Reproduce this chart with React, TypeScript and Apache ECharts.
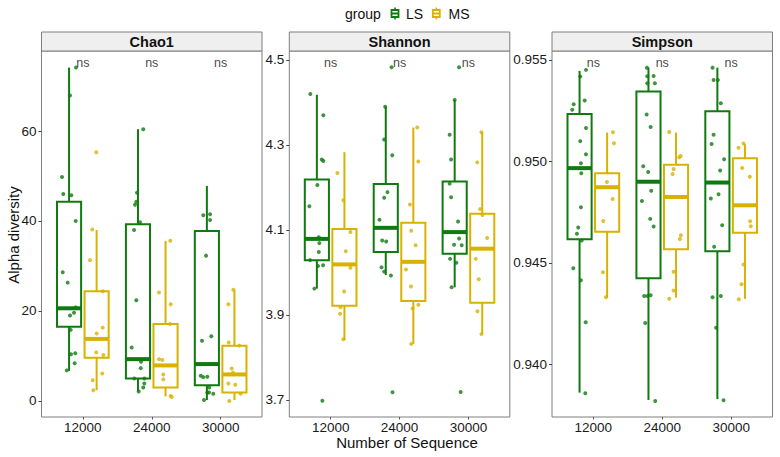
import React, { useEffect, useRef } from "react";
import * as echarts from "echarts";

const categories = ["12000", "24000", "30000"];
const groups = ["LS", "MS"];
const metrics = ["Chao1", "Shannon", "Simpson"];
const groupColors = ["#0F7A0F", "#D8B200"];

// box statistics per category: [lower whisker, Q1, median, Q3, upper whisker]
const chao1BoxLS = [[6.7, 16.5, 20.6, 44.3, 74.1], [2.1, 5.0, 9.3, 39.3, 60.4], [0.2, 3.5, 8.2, 37.8, 47.8]];
const chao1BoxMS = [[2.4, 9.6, 13.8, 24.4, 38.0], [1.0, 3.0, 7.9, 17.1, 35.6], [0.2, 1.9, 5.9, 12.3, 24.7]];
const shannonBoxLS = [[3.962, 4.029, 4.079, 4.219, 4.418], [3.994, 4.048, 4.105, 4.208, 4.39], [3.965, 4.044, 4.095, 4.214, 4.406]];
const shannonBoxMS = [[3.841, 3.922, 4.019, 4.102, 4.283], [3.832, 3.933, 4.025, 4.117, 4.341], [3.855, 3.929, 4.056, 4.138, 4.33]];
const simpsonBoxLS = [[0.93861, 0.94617, 0.94967, 0.95234, 0.95446], [0.93825, 0.94425, 0.949, 0.95344, 0.95462], [0.93829, 0.94558, 0.94896, 0.95247, 0.95462]];
const simpsonBoxMS = [[0.94329, 0.94653, 0.94873, 0.94942, 0.95142], [0.94329, 0.94567, 0.94825, 0.94984, 0.95142], [0.94323, 0.94649, 0.94784, 0.95016, 0.95085]];

// jittered points: [jittered x position (category units), value]
const chao1PointsLS = [
  [0.901, 74.1], [0.814, 67.9], [0.698, 49.8], [0.716, 46.0], [0.833, 45.7], [0.896, 40.0], [0.708, 28.6], [0.78, 26.3],
  [0.896, 20.8], [0.872, 19.6], [0.814, 19.0], [0.824, 15.8], [0.828, 10.4], [0.891, 10.6], [0.882, 8.4], [0.766, 6.8],
  [1.877, 60.4], [1.786, 46.3], [1.776, 44.3], [1.757, 43.6], [1.83, 39.7], [1.743, 38.0], [1.776, 22.4], [1.709, 11.9],
  [1.844, 8.7], [1.84, 7.3], [1.892, 3.9], [1.877, 3.0], [1.811, 2.1], [1.747, 5.0], [1.892, 5.0],
  [2.748, 41.3], [2.846, 41.5], [2.846, 40.2], [2.788, 32.3], [2.729, 13.4], [2.864, 14.4], [2.711, 5.6], [2.748, 5.3],
  [2.806, 5.4], [2.835, 3.0], [2.831, 1.9], [2.893, 1.6], [2.758, 0.2], [2.806, 1.9],
];
const chao1PointsMS = [
  [1.195, 55.3], [1.137, 38.1], [1.104, 31.3], [1.288, 24.4], [1.201, 15.0], [1.288, 16.3], [1.195, 10.8], [1.297, 10.2],
  [1.282, 6.1], [1.143, 4.6], [1.152, 2.4],
  [2.269, 35.6], [2.105, 24.1], [2.275, 21.5], [2.265, 17.1], [2.105, 9.3], [2.153, 9.1], [2.168, 5.9], [2.168, 4.8],
  [2.275, 1.1], [2.29, 0.9],
  [3.184, 24.7], [3.111, 21.5], [3.117, 13.0], [3.271, 12.3], [3.16, 7.2], [3.179, 6.3], [3.111, 3.9], [3.213, 3.6],
  [3.291, 1.6], [3.126, 0.0],
];
const shannonPointsLS = [
  [0.705, 4.42], [0.894, 4.37], [0.871, 4.266], [0.894, 4.262], [0.807, 4.206], [0.691, 4.156], [0.828, 4.083], [0.836, 4.069],
  [0.828, 4.048], [0.701, 4.029], [0.817, 4.015], [0.89, 4.017], [0.764, 3.962], [0.88, 3.698],
  [1.792, 4.39], [1.777, 4.313], [1.894, 4.276], [1.825, 4.189], [1.777, 4.176], [1.709, 4.124], [1.884, 4.483], [1.748, 4.075],
  [1.806, 4.073], [1.738, 4.012], [1.777, 4.002], [1.875, 3.993], [1.898, 3.718],
  [2.8, 4.406], [2.727, 4.324], [2.748, 4.266], [2.727, 4.209], [2.748, 4.177], [2.849, 4.12], [2.864, 4.483], [2.864, 4.08],
  [2.791, 4.065], [2.902, 4.064], [2.733, 4.032], [2.825, 4.023], [2.756, 3.965], [2.887, 3.719],
];
const shannonPointsMS = [
  [1.098, 4.234], [1.185, 4.17], [1.287, 4.095], [1.22, 4.05], [1.287, 4.011], [1.196, 3.955], [1.142, 3.918], [1.137, 3.903],
  [1.185, 3.843],
  [2.257, 4.341], [2.272, 4.261], [2.151, 4.16], [2.17, 4.098], [2.233, 4.064], [2.093, 4.007], [2.166, 3.967], [2.272, 3.924],
  [2.189, 3.915], [2.17, 3.832],
  [3.188, 4.33], [3.126, 4.259], [3.169, 4.149], [3.203, 4.135], [3.271, 4.081], [3.105, 4.032], [3.149, 3.984], [3.13, 3.909],
  [3.188, 3.855],
];
const simpsonPointsLS = [
  [0.893, 0.95451], [0.81, 0.95418], [0.874, 0.953], [0.715, 0.95282], [0.694, 0.95255], [0.893, 0.95165], [0.81, 0.951],
  [0.893, 0.95035], [0.82, 0.94991], [0.825, 0.94942], [0.82, 0.94774], [0.781, 0.94674], [0.762, 0.94644], [0.831, 0.9461],
  [0.709, 0.94474], [0.82, 0.94415], [0.889, 0.94208], [0.883, 0.93858],
  [1.777, 0.95462], [1.875, 0.95421], [1.782, 0.9542], [1.782, 0.95385], [1.893, 0.95385], [1.773, 0.95231], [1.831, 0.9517],
  [1.724, 0.94976], [1.796, 0.94948], [1.84, 0.94856], [1.705, 0.94805], [1.825, 0.94717], [1.875, 0.94679], [1.738, 0.94337],
  [1.787, 0.94337], [1.831, 0.94341], [1.753, 0.94204], [1.898, 0.9382],
  [2.73, 0.95462], [2.745, 0.95401], [2.807, 0.95401], [2.85, 0.95287], [2.745, 0.95131], [2.716, 0.95086], [2.898, 0.95011],
  [2.84, 0.94955], [2.817, 0.94838], [2.705, 0.94817], [2.869, 0.94686], [2.753, 0.9458], [2.73, 0.94331], [2.85, 0.94337],
  [2.782, 0.94181], [2.89, 0.93824],
];
const simpsonPointsMS = [
  [1.284, 0.95144], [1.299, 0.9509], [1.197, 0.94899], [1.28, 0.94815], [1.144, 0.94707], [1.139, 0.94454], [1.183, 0.94331],
  [2.101, 0.95145], [2.266, 0.95027], [2.246, 0.9502], [2.165, 0.94963], [2.15, 0.94938], [2.27, 0.94636], [2.256, 0.94618],
  [2.165, 0.94457], [2.165, 0.94364], [2.101, 0.94324],
  [3.179, 0.95088], [3.107, 0.95067], [3.159, 0.94968], [3.271, 0.94924], [3.275, 0.94705], [3.285, 0.94681], [3.179, 0.94492],
  [3.15, 0.94395], [3.111, 0.94321],
];

const yMin = [-3.56, 3.66, 0.93741];
const yMax = [77.78, 4.521, 0.95544];
const yTickValues = [[0, 20, 40, 60], [3.7, 3.9, 4.1, 4.3, 4.5], [0.94, 0.945, 0.95, 0.955]];
const yDecimals = [0, 1, 3];
const nsLabelY = [75.1, 4.492, 0.95484];
const nsText = "ns";
const yTitle = "Alpha diversity";
const xTitle = "Number of Sequence";
const legendTitle = "group";

const FONT = "'Liberation Sans', Arial, Helvetica, sans-serif";
const PANEL_LEFT = [41.5, 289.3, 552];
const PANEL_W = 220.5;
const PANEL_TOP = 51;
const PANEL_H = 366;
const STRIP_TOP = 32;
const BORDER = "#7f7f7f";
const DODGE = 0.2;
const BOX_HALF = 0.175;

const boxes = [
  [chao1BoxLS, chao1BoxMS],
  [shannonBoxLS, shannonBoxMS],
  [simpsonBoxLS, simpsonBoxMS],
];
const points = [
  [chao1PointsLS, chao1PointsMS],
  [shannonPointsLS, shannonPointsMS],
  [simpsonPointsLS, simpsonPointsMS],
];

function makeRenderItem(color: string) {
  return (params: any, api: any) => {
    const x = api.value(0);
    const lo = api.coord([x, api.value(1)]);
    const q1 = api.coord([x, api.value(2)]);
    const med = api.coord([x, api.value(3)]);
    const q3 = api.coord([x, api.value(4)]);
    const hi = api.coord([x, api.value(5)]);
    const half = api.size([BOX_HALF, 0])[0];
    const cx = med[0];
    return {
      type: "group",
      children: [
        { type: "line", shape: { x1: cx, y1: hi[1], x2: cx, y2: q3[1] }, style: { stroke: color, lineWidth: 2 } },
        { type: "line", shape: { x1: cx, y1: q1[1], x2: cx, y2: lo[1] }, style: { stroke: color, lineWidth: 2 } },
        {
          type: "rect",
          shape: { x: cx - half, y: q3[1], width: half * 2, height: q1[1] - q3[1] },
          style: { fill: "rgba(255,255,255,0)", stroke: color, lineWidth: 2 },
        },
        { type: "line", shape: { x1: cx - half, y1: med[1], x2: cx + half, y2: med[1] }, style: { stroke: color, lineWidth: 4 } },
      ],
    };
  };
}

function legendKey(cx: number, color: string) {
  return [
    { type: "line", shape: { x1: cx, y1: 7.5, x2: cx, y2: 19.5 }, style: { stroke: color, lineWidth: 1.6 } },
    { type: "rect", shape: { x: cx - 3.5, y: 10, width: 7, height: 7 }, style: { fill: "#fff", stroke: color, lineWidth: 1.8 } },
    { type: "line", shape: { x1: cx - 3.5, y1: 13.5, x2: cx + 3.5, y2: 13.5 }, style: { stroke: color, lineWidth: 2 } },
  ];
}

export default function App() {
  const ref = useRef<HTMLDivElement>(null);
  useEffect(() => {
    if (!ref.current) return;
    const chart = echarts.init(ref.current, undefined, { renderer: "svg" });

    const grid = PANEL_LEFT.map((l) => ({
      left: l,
      top: PANEL_TOP,
      width: PANEL_W,
      height: PANEL_H,
      show: true,
      borderColor: BORDER,
      borderWidth: 1,
      backgroundColor: "#fff",
      containLabel: false,
      outerBoundsMode: "none",
    }));

    const xAxis = metrics.map((_, i) => ({
      type: "value",
      gridIndex: i,
      min: 0.4,
      max: 3.6,
      axisLine: { show: false, onZero: false },
      splitLine: { show: false },
      axisTick: { show: true, length: 2.5, customValues: [1, 2, 3], lineStyle: { color: "#555", width: 1 } },
      axisLabel: {
        customValues: [1, 2, 3],
        formatter: (v: number) => categories[Math.round(v) - 1] ?? "",
        fontSize: 13.5,
        fontFamily: FONT,
        color: "#1a1a1a",
        margin: 3,
      },
    }));

    const yAxis = metrics.map((_, i) => ({
      type: "value",
      gridIndex: i,
      min: yMin[i],
      max: yMax[i],
      axisLine: { show: false, onZero: false },
      splitLine: { show: false },
      axisTick: { show: true, length: 3, customValues: yTickValues[i], lineStyle: { color: "#444", width: 1 } },
      axisLabel: {
        customValues: yTickValues[i],
        formatter: (v: number) => v.toFixed(yDecimals[i]),
        fontSize: 13.5,
        fontFamily: FONT,
        color: "#1a1a1a",
        margin: 5,
      },
    }));

    const series: any[] = [];
    metrics.forEach((_, i) => {
      groups.forEach((g, gi) => {
        series.push({
          name: g,
          type: "custom",
          xAxisIndex: i,
          yAxisIndex: i,
          renderItem: makeRenderItem(groupColors[gi]),
          encode: { x: 0, y: [1, 2, 3, 4, 5] },
          data: boxes[i][gi].map((b, c) => [c + 1 + (gi === 0 ? -DODGE : DODGE), ...b]),
          z: 2,
          silent: true,
        });
      });
      groups.forEach((g, gi) => {
        series.push({
          name: g,
          type: "scatter",
          xAxisIndex: i,
          yAxisIndex: i,
          symbol: "circle",
          symbolSize: 4,
          itemStyle: { color: groupColors[gi] },
          data: points[i][gi],
          z: 3,
          silent: true,
        });
      });
      series.push({
        type: "scatter",
        xAxisIndex: i,
        yAxisIndex: i,
        symbolSize: 1,
        itemStyle: { color: "rgba(0,0,0,0)" },
        label: {
          show: true,
          position: "inside",
          formatter: nsText,
          fontSize: 12.5,
          fontFamily: FONT,
          color: "#111",
        },
        data: categories.map((_, c) => [c + 1, nsLabelY[i]]),
        z: 4,
        silent: true,
      });
    });

    const graphic: any[] = [];
    PANEL_LEFT.forEach((l, i) => {
      graphic.push({
        type: "rect",
        shape: { x: l, y: STRIP_TOP, width: PANEL_W, height: PANEL_TOP - STRIP_TOP },
        style: { fill: "#efefef", stroke: BORDER, lineWidth: 1 },
      });
      graphic.push({
        type: "text",
        x: l + PANEL_W / 2,
        y: (STRIP_TOP + PANEL_TOP) / 2 + 0.5,
        style: {
          text: metrics[i],
          fontSize: 14.5,
          fontWeight: "bold",
          fontFamily: FONT,
          fill: "#111",
          align: "center",
          verticalAlign: "middle",
          textAlign: "center",
          textVerticalAlign: "middle",
        },
      });
    });
    graphic.push({
      type: "text",
      x: 13,
      y: 235,
      rotation: Math.PI / 2,
      style: {
        text: yTitle,
        fontSize: 15,
        fontFamily: FONT,
        fill: "#111",
        align: "center",
        verticalAlign: "middle",
        textAlign: "center",
        textVerticalAlign: "middle",
      },
    });
    graphic.push({
      type: "text",
      x: 407,
      y: 442,
      style: {
        text: xTitle,
        fontSize: 15,
        fontFamily: FONT,
        fill: "#111",
        align: "center",
        verticalAlign: "middle",
        textAlign: "center",
        textVerticalAlign: "middle",
      },
    });
    graphic.push({
      type: "text",
      x: 345,
      y: 13.5,
      style: { text: legendTitle, fontSize: 14, fontFamily: FONT, fill: "#111", verticalAlign: "middle", textVerticalAlign: "middle" },
    });
    const keyX = [395, 436.3];
    const labelX = [406, 448.5];
    groups.forEach((g, gi) => {
      graphic.push(...legendKey(keyX[gi], groupColors[gi]));
      graphic.push({
        type: "text",
        x: labelX[gi],
        y: 13.5,
        style: { text: g, fontSize: 14, fontFamily: FONT, fill: "#111", verticalAlign: "middle", textVerticalAlign: "middle" },
      });
    });

    chart.setOption({
      animation: false,
      backgroundColor: "#fff",
      textStyle: { fontFamily: FONT },
      grid,
      xAxis,
      yAxis,
      series,
      graphic,
    });
    return () => chart.dispose();
  }, []);

  return <div ref={ref} style={{ position: "fixed", left: 0, top: 0, width: 780, height: 457 }} />;
}
